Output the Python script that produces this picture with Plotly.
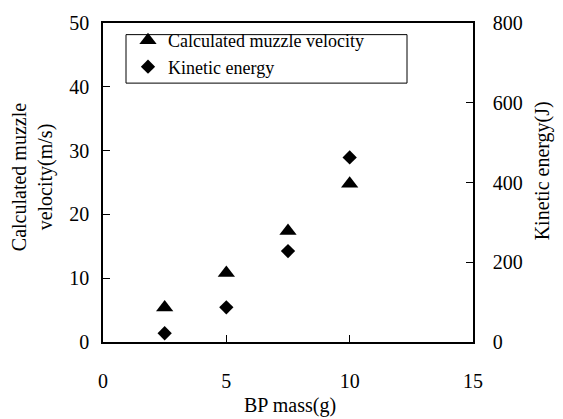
import plotly.graph_objects as go

bp_mass = [2.5, 5, 7.5, 10]
muzzle_velocity = [5.4, 10.8, 17.4, 24.8]
kinetic_energy = [22, 87, 228, 463]

FONT = "Liberation Serif, DejaVu Serif, serif"
L, R, T, B = 103, 90, 13, 77
W, H = 563, 419
pw, ph = W - L - R, H - T - B

def px(x):
    return (x - L) / pw

def py(y):
    return (H - B - y) / ph

fig = go.Figure()
fig.add_trace(go.Scatter(x=bp_mass, y=muzzle_velocity, mode="markers",
                         name="Calculated muzzle velocity",
                         marker=dict(symbol="triangle-up", size=15, color="black")))
fig.add_trace(go.Scatter(x=bp_mass, y=kinetic_energy, mode="markers",
                         name="Kinetic energy", yaxis="y2",
                         marker=dict(symbol="diamond", size=11, color="black")))

tickfont = dict(family=FONT, size=20, color="black")
fig.update_layout(
    width=W, height=H,
    margin=dict(l=L, r=R, t=T, b=B),
    paper_bgcolor="white", plot_bgcolor="white",
    showlegend=True,
    legend=dict(x=px(128), y=py(12), xanchor="left", yanchor="top",
                font=dict(family=FONT, size=18, color="black"),
                bgcolor="rgba(0,0,0,0)", borderwidth=0, tracegroupgap=0),
    xaxis=dict(range=[0, 15], tickvals=[0, 5, 10, 15], showgrid=False, zeroline=False,
               showline=True, linecolor="black", linewidth=1.5, mirror=True,
               ticks="inside", ticklen=7, tickcolor="black",
               tickfont=tickfont, ticklabelstandoff=20),
    yaxis=dict(range=[0, 50], tickvals=[0, 10, 20, 30, 40, 50], showgrid=False, zeroline=False,
               showline=True, linecolor="black", linewidth=1.5,
               ticks="inside", ticklen=7, tickcolor="black",
               tickfont=tickfont, ticklabelstandoff=8),
    yaxis2=dict(range=[0, 800], tickvals=[0, 200, 400, 600, 800], overlaying="y", side="right",
                showgrid=False, zeroline=False,
                showline=True, linecolor="black", linewidth=1.5,
                ticks="inside", ticklen=7, tickcolor="black",
                tickfont=tickfont, ticklabelstandoff=14),
    shapes=[dict(type="rect", xref="paper", yref="paper",
                 x0=px(126), x1=px(407), y0=py(75), y1=py(25),
                 line=dict(color="black", width=1), fillcolor="rgba(0,0,0,0)")],
    annotations=[
        dict(text="BP mass(g)", xref="paper", yref="paper", x=px(290), y=py(407),
             xanchor="center", yanchor="middle", showarrow=False,
             font=dict(family=FONT, size=20, color="black")),
        dict(text="Calculated muzzle<br>velocity(m/s)", xref="paper", yref="paper",
             x=px(32), y=py(172), xanchor="center", yanchor="middle", showarrow=False,
             textangle=-90, font=dict(family=FONT, size=20, color="black")),
        dict(text="Kinetic energy(J)", xref="paper", yref="paper",
             x=px(542), y=py(166), xanchor="center", yanchor="middle", showarrow=False,
             textangle=-90, font=dict(family=FONT, size=20, color="black")),
    ],
)

fig.write_html("out.html")
